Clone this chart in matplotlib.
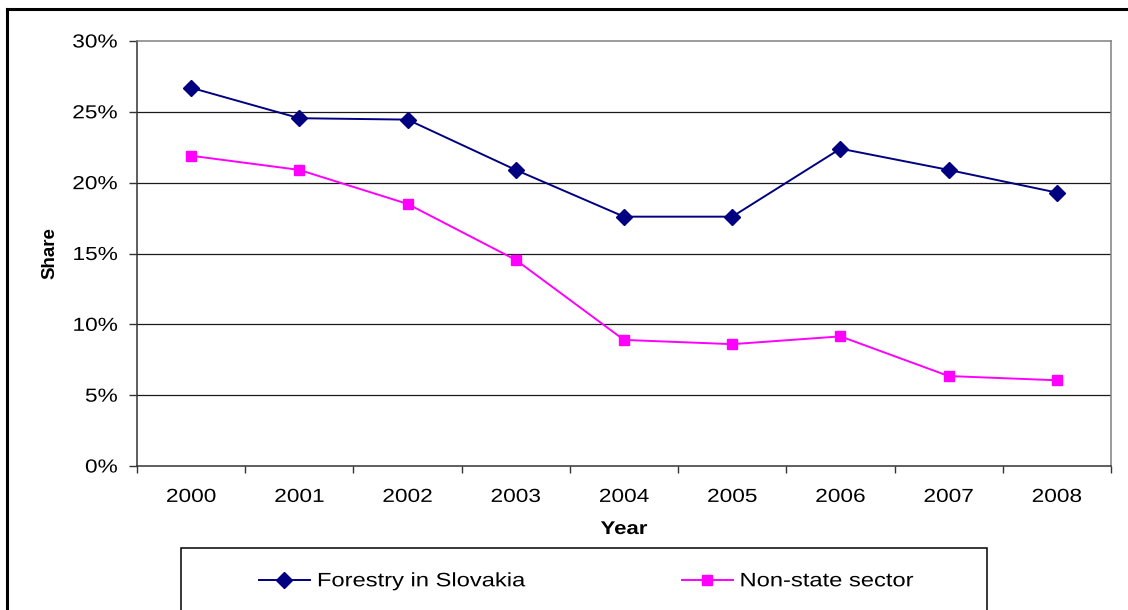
import matplotlib
matplotlib.use("Agg")
import matplotlib.pyplot as plt
from matplotlib.patches import Rectangle
from matplotlib.lines import Line2D
from matplotlib.ticker import FixedLocator, PercentFormatter
from matplotlib.patheffects import AbstractPathEffect
from matplotlib.transforms import Affine2D

years = ["2000", "2001", "2002", "2003", "2004", "2005", "2006", "2007", "2008"]
forestry = [26.7, 24.55, 24.45, 20.9, 17.6, 17.6, 22.4, 20.9, 19.3]
nonstate = [21.9, 20.9, 18.5, 14.55, 8.9, 8.6, 9.15, 6.35, 6.05]
yticks = [0, 5, 10, 15, 20, 25, 30]

plt.rcParams['font.family'] = ['Liberation Sans', 'DejaVu Sans']
FS = 13.6
STRETCH = 1.2


class HStretch(AbstractPathEffect):
    """Widen text horizontally, keeping the given anchor fraction fixed."""
    def __init__(self, s, frac):
        super().__init__()
        self.s = s
        self.frac = frac

    def draw_path(self, renderer, gc, tpath, affine, rgbFace=None):
        ext = tpath.get_extents()
        w = ext.x1
        pre = Affine2D().translate(-self.frac * w, 0).scale(self.s, 1).translate(self.frac * w, 0)
        renderer.draw_path(gc, tpath, pre + affine, rgbFace)


W, H = 1128, 610
fig = plt.figure(figsize=(W / 100, H / 100), dpi=100)
fig.patch.set_facecolor('white')

# outer frame (left and top edges visible)
fig.add_artist(Line2D([7 / W, 7 / W], [0, 1 - 9 / H], transform=fig.transFigure, color='black', lw=2.2))
fig.add_artist(Line2D([7 / W, 1], [1 - 9 / H, 1 - 9 / H], transform=fig.transFigure, color='black', lw=2.2))

ax = fig.add_axes([137 / W, 1 - 466 / H, (1111 - 137) / W, (466 - 41) / H])
x = list(range(len(years)))

for y in yticks[1:-1]:
    ax.axhline(y, color='#1a1a1a', lw=0.9, zorder=1)

ax.plot(x, forestry, color='#000080', lw=1.4, marker='D', markersize=8.2,
        markerfacecolor='#000080', markeredgecolor='#000080', zorder=3, label='Forestry in Slovakia')
ax.plot(x, nonstate, color='#FF00FF', lw=1.4, marker='s', markersize=7.6,
        markerfacecolor='#FF00FF', markeredgecolor='#FF00FF', zorder=3, label='Non-state sector')

ax.set_xlim(-0.5, len(years) - 0.5)
ax.set_ylim(0, 30)
ax.set_xticks(x)
ax.set_xticklabels(years, fontsize=FS)
ax.xaxis.set_minor_locator(FixedLocator([i - 0.5 for i in range(len(years) + 1)]))
ax.tick_params(axis='x', which='major', length=0, pad=16.5)
ax.tick_params(axis='x', which='minor', length=5, width=1, color='#333333', direction='out')
ax.set_yticks(yticks)
ax.yaxis.set_major_formatter(PercentFormatter(decimals=0))
ax.tick_params(axis='y', which='major', length=6, width=1, color='#333333', direction='out', pad=8, labelsize=FS)

for lab in ax.get_xticklabels():
    lab.set_path_effects([HStretch(STRETCH, 0.5)])
for lab in ax.get_yticklabels():
    lab.set_path_effects([HStretch(STRETCH, 1.0)])

for s in ['left', 'bottom']:
    ax.spines[s].set_color('#333333')
    ax.spines[s].set_linewidth(1.1)
for s in ['top', 'right']:
    ax.spines[s].set_color('#808080')
    ax.spines[s].set_linewidth(1.1)

ax.set_ylabel('Share', fontsize=13.5, fontweight='bold')
ax.yaxis.set_label_coords((58 - 137) / (1111 - 137), 0.5)
xl = ax.set_xlabel('Year', fontsize=13.3, fontweight='bold')
xl.set_path_effects([HStretch(STRETCH, 0.5)])
ax.xaxis.set_label_coords(0.5, (466 - 521) / (466 - 41))

# legend box
fig.add_artist(Rectangle((181 / W, -0.05), (987 - 181) / W, 0.05 + (610 - 548) / H,
                         transform=fig.transFigure, fill=False, edgecolor='black', lw=1.1))
LFS = 14
leg = fig.legend(loc='center left', bbox_to_anchor=(259 / W, 1 - 581.5 / H), ncol=2, frameon=False,
                 fontsize=LFS, handlelength=2.62, handletextpad=0.36, columnspacing=9.9,
                 borderpad=0, borderaxespad=0)
for t in leg.get_texts():
    t.set_path_effects([HStretch(1.22, 0.0)])

fig.savefig('out.png', dpi=100)
